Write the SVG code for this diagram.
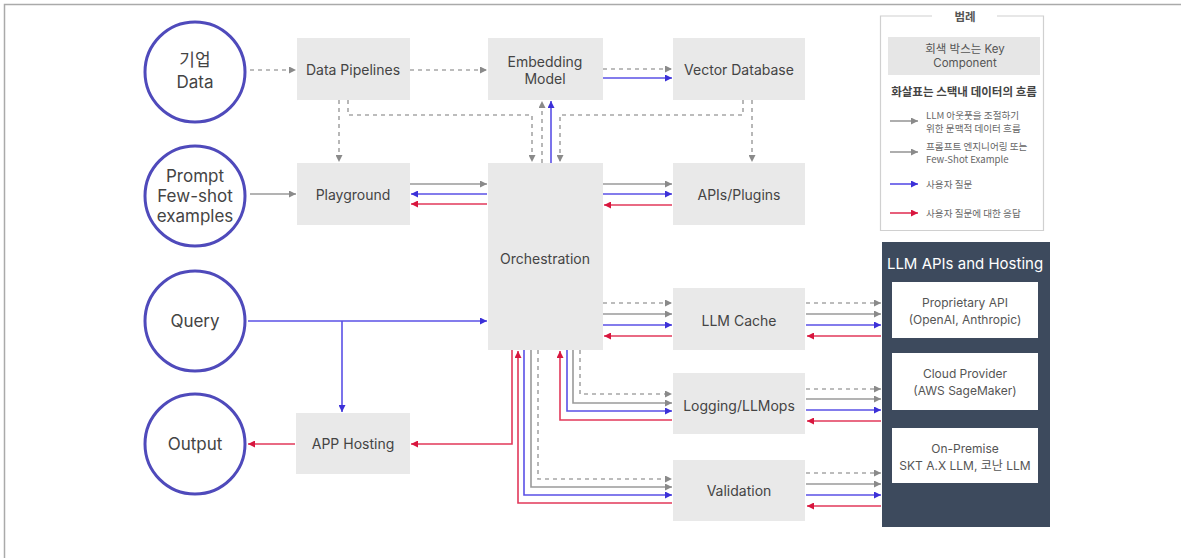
<svg xmlns="http://www.w3.org/2000/svg" width="1181" height="558" viewBox="0 0 1181 558">
<defs>
<style>
.t{font-family:Inter,"Noto Sans","Noto Sans CJK KR",sans-serif;fill:#444;text-anchor:middle;dominant-baseline:central}
.box{fill:#e9e9e9}
.circ{fill:#fff;stroke:#4f4abb;stroke-width:3}
.cl{font-size:17px}
.bl{font-size:14px}
.ln{fill:none;stroke-width:1.6}
.g{stroke:#9a9a9a;marker-end:url(#ag)}
.d{stroke:#a6a6a6;stroke-dasharray:4 4;marker-end:url(#ag)}
.b{stroke:#5a50e6;marker-end:url(#ab)}
.r{stroke:#e2385a;marker-end:url(#ar)}
.lg{font-family:"Noto Sans CJK KR",Inter,sans-serif;font-size:9.6px;fill:#666;dominant-baseline:central}
.ib{fill:#fff}
.it{font-size:12px;fill:#555}
</style>
<marker id="ag" viewBox="0 0 8 8" refX="8" refY="4" markerWidth="7" markerHeight="7" markerUnits="userSpaceOnUse" orient="auto"><path d="M0,0 L8,4 L0,8 z" fill="#8a8a8a"/></marker>
<marker id="ab" viewBox="0 0 8 8" refX="8" refY="4" markerWidth="7" markerHeight="7" markerUnits="userSpaceOnUse" orient="auto"><path d="M0,0 L8,4 L0,8 z" fill="#3b30d8"/></marker>
<marker id="ar" viewBox="0 0 8 8" refX="8" refY="4" markerWidth="7" markerHeight="7" markerUnits="userSpaceOnUse" orient="auto"><path d="M0,0 L8,4 L0,8 z" fill="#d8163e"/></marker>
</defs>
<rect width="1181" height="558" fill="#fff"/>
<path d="M4.5,558 V4.5 H1181" fill="none" stroke="#aaa" stroke-width="1.5"/>

<g id="connectors">
<path class="ln d" d="M250,70 H296"/>
<path class="ln d" d="M410,70 H487"/>
<path class="ln d" d="M603,69 H672"/>
<path class="ln d" d="M339,100 V162"/>
<path class="ln d" d="M348,100 V115 H532 V162"/>
<path class="ln d" d="M542,163 V101"/>
<path class="ln d" d="M743,100 V115 H560 V162"/>
<path class="ln d" d="M752,100 V162"/>
<path class="ln d" d="M603,303 H672"/>
<path class="ln d" d="M806,303 H881"/>
<path class="ln d" d="M580,350 V394 H672"/>
<path class="ln d" d="M806,389 H881"/>
<path class="ln d" d="M538,350 V479 H672"/>
<path class="ln d" d="M806,473 H881"/>

<path class="ln g" d="M250,194 H296"/>
<path class="ln g" d="M410,184 H487"/>
<path class="ln g" d="M603,184 H672"/>
<path class="ln g" d="M603,314 H672"/>
<path class="ln g" d="M806,314 H881"/>
<path class="ln g" d="M573,350 V403 H672"/>
<path class="ln g" d="M806,399 H881"/>
<path class="ln g" d="M531,350 V487 H672"/>
<path class="ln g" d="M806,484 H881"/>

<path class="ln b" d="M603,78 H672"/>
<path class="ln b" d="M551,163 V101"/>
<path class="ln b" d="M487,194 H411"/>
<path class="ln b" d="M603,194 H672"/>
<path class="ln b" d="M248,321 H487"/>
<path class="ln b" d="M342,321 V412"/>
<path class="ln b" d="M603,325 H672"/>
<path class="ln b" d="M806,325 H881"/>
<path class="ln b" d="M567,350 V411 H672"/>
<path class="ln b" d="M806,410 H881"/>
<path class="ln b" d="M524,350 V495 H672"/>
<path class="ln b" d="M806,495 H881"/>

<path class="ln r" d="M487,204 H411"/>
<path class="ln r" d="M672,205 H604"/>
<path class="ln r" d="M295,444 H248"/>
<path class="ln r" d="M512,350 V444 H411"/>
<path class="ln r" d="M672,503 H518 V351"/>
<path class="ln r" d="M672,420 H560 V351"/>
<path class="ln r" d="M672,336 H604"/>
<path class="ln r" d="M881,336 H807"/>
<path class="ln r" d="M881,421 H807"/>
<path class="ln r" d="M881,506 H807"/>
</g>

<g id="n-data"><circle class="circ" cx="195" cy="72" r="50"/><text class="t cl" x="195" y="60">기업</text><text class="t cl" x="195" y="82">Data</text></g>
<g id="n-prompt"><circle class="circ" cx="195" cy="196" r="50"/><text class="t cl" x="195" y="176">Prompt</text><text class="t cl" x="195" y="196">Few-shot</text><text class="t cl" x="195" y="216">examples</text></g>
<g id="n-query"><circle class="circ" cx="195" cy="321" r="50"/><text class="t cl" x="195" y="321">Query</text></g>
<g id="n-output"><circle class="circ" cx="195" cy="444" r="50"/><text class="t cl" x="195" y="444">Output</text></g>

<g id="n-pipelines"><rect class="box" x="297" y="38" width="113" height="62"/><text class="t bl" x="353" y="69">Data Pipelines</text></g>
<g id="n-playground"><rect class="box" x="297" y="163" width="113" height="62"/><text class="t bl" x="353" y="194">Playground</text></g>
<g id="n-apphosting"><rect class="box" x="296" y="413" width="114" height="61"/><text class="t bl" x="353" y="443">APP Hosting</text></g>
<g id="n-embedding"><rect class="box" x="488" y="38" width="115" height="62"/><text class="t bl" x="545" y="61">Embedding</text><text class="t bl" x="545" y="78">Model</text></g>
<g id="n-orchestration"><rect class="box" x="488" y="163" width="115" height="187"/><text class="t bl" x="545" y="258">Orchestration</text></g>
<g id="n-vectordb"><rect class="box" x="673" y="38" width="132" height="62"/><text class="t bl" x="739" y="69">Vector Database</text></g>
<g id="n-apis"><rect class="box" x="673" y="163" width="132" height="62"/><text class="t bl" x="739" y="194">APIs/Plugins</text></g>
<g id="n-cache"><rect class="box" x="673" y="288" width="132" height="62"/><text class="t bl" x="739" y="320">LLM Cache</text></g>
<g id="n-logging"><rect class="box" x="673" y="373" width="132" height="61"/><text class="t bl" x="739" y="405">Logging/LLMops</text></g>
<g id="n-validation"><rect class="box" x="673" y="460" width="132" height="61"/><text class="t bl" x="739" y="490">Validation</text></g>

<g id="n-llmapis">
<rect x="882" y="242" width="168" height="285" fill="#3d4a5d"/>
<text class="t" x="965" y="263" style="font-size:15px;fill:#fff">LLM APIs and Hosting</text>
<rect class="ib" x="892" y="282" width="146" height="56"/>
<text class="t it" x="965" y="302">Proprietary API</text><text class="t it" x="965" y="319">(OpenAI, Anthropic)</text>
<rect class="ib" x="892" y="353" width="146" height="57"/>
<text class="t it" x="965" y="373">Cloud Provider</text><text class="t it" x="965" y="390">(AWS SageMaker)</text>
<rect class="ib" x="892" y="428" width="146" height="55"/>
<text class="t it" x="965" y="448">On-Premise</text><text class="t it" x="965" y="465">SKT A.X LLM, 코난 LLM</text>
</g>

<g id="legend">
<path d="M932,16 H880.5 V230.5 H1043.5 V16 H997" fill="none" stroke="#d0d0d0" stroke-width="1.2"/>
<text class="t" x="965" y="17" style="font-size:11.5px;font-weight:bold;fill:#555">범례</text>
<rect x="888" y="37" width="152" height="38" fill="#e6e6e6"/>
<text class="t" x="965" y="49" style="font-size:11.5px;fill:#555">회색 박스는 Key</text>
<text class="t" x="965" y="63" style="font-size:11.5px;fill:#555">Component</text>
<text class="t" x="964" y="92" style="font-size:11.5px;font-weight:bold;fill:#444">화살표는 스택내 데이터의 흐름</text>
<path class="ln g" d="M890,121 H918" stroke-width="1.2"/>
<text class="lg" x="926" y="115">LLM 아웃풋을 조절하기</text>
<text class="lg" x="926" y="128">위한 문맥적 데이터 흐름</text>
<path class="ln g" d="M890,152 H918" stroke-width="1.2"/>
<text class="lg" x="926" y="146">프롬프트 엔지니어링 또는</text>
<text class="lg" x="926" y="159">Few-Shot Example</text>
<path class="ln b" d="M890,184 H918"/>
<text class="lg" x="926" y="184">사용자 질문</text>
<path class="ln r" d="M890,213 H918"/>
<text class="lg" x="926" y="213">사용자 질문에 대한 응답</text>
</g>
</svg>
